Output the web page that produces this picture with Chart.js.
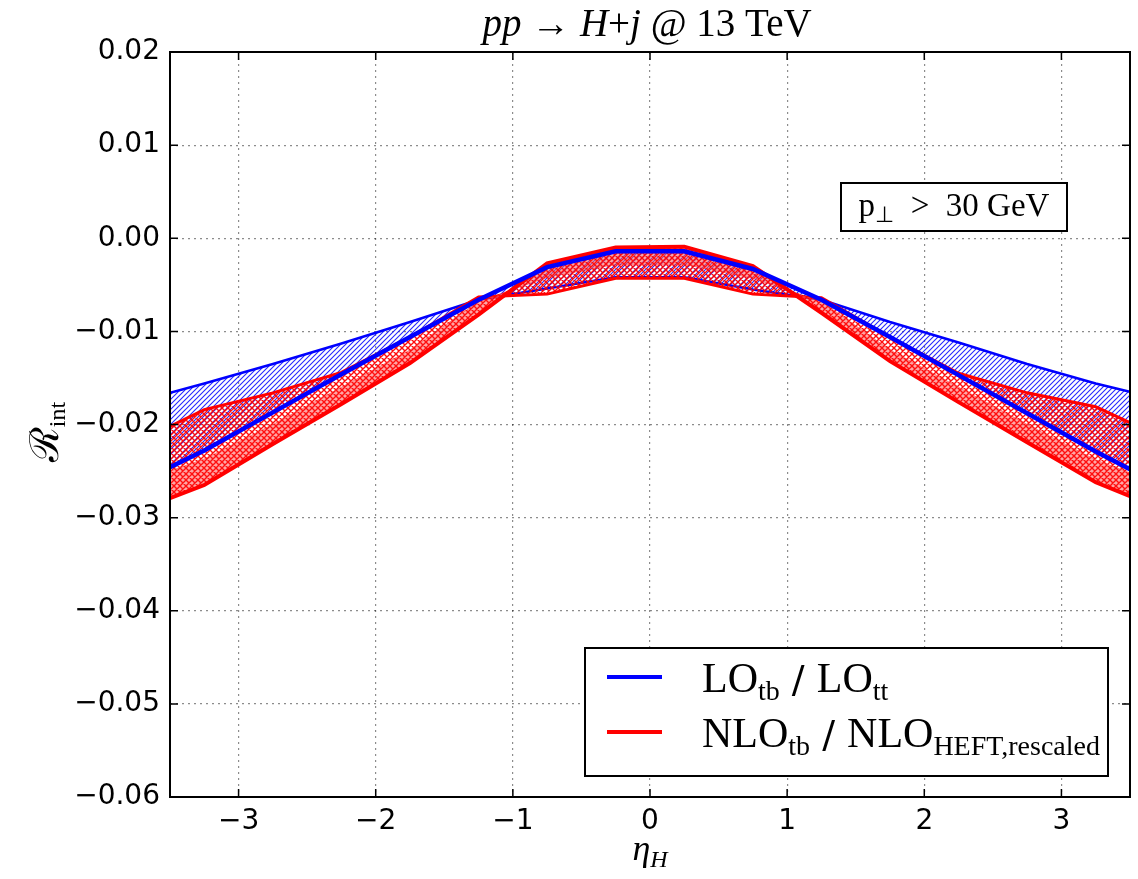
<!DOCTYPE html>
<html>
<head>
<meta charset="utf-8">
<script src="https://cdn.jsdelivr.net/npm/chart.js@4.4.0/dist/chart.umd.min.js"></script>
<style>
  html, body { margin: 0; padding: 0; background: #fff; }
  #wrap { width: 1138px; height: 879px; }
</style>
</head>
<body>
<div id="wrap"><canvas id="chart" width="1138" height="879"></canvas></div>
<script>
// eta_H bins (edges of plot at +-3.5)
const eta = [-3.5, -3.25, -2.75, -2.25, -1.75, -1.25, -0.75, -0.25, 0.25, 0.75, 1.25, 1.75, 2.25, 2.75, 3.25, 3.5];

// LO_tb / LO_tt : central line and other edge of the band
const loCentral = [-0.0246, -0.0228, -0.0187, -0.0146, -0.0106, -0.0066, -0.0031, -0.0014,
                   -0.0014, -0.0033, -0.0066, -0.0106, -0.0147, -0.0188, -0.0229, -0.0248];
const loBand    = [-0.0166, -0.0156, -0.0135, -0.0113, -0.0090, -0.0066, -0.0054, -0.0042,
                   -0.0042, -0.0055, -0.0066, -0.0090, -0.0112, -0.0135, -0.0156, -0.0165];

// NLO_tb / NLO_HEFT,rescaled : central line, middle edge, hatched edge
const nloCentral = [-0.0279, -0.0265, -0.0221, -0.0178, -0.0134, -0.0082, -0.0027, -0.0010,
                    -0.0009, -0.0030, -0.0080, -0.0132, -0.0176, -0.0219, -0.0262, -0.0277];
const nloMid     = [-0.0250, -0.0237, -0.0200, -0.0160, -0.0120, -0.0068, -0.0042, -0.0028,
                    -0.0028, -0.0043, -0.0068, -0.0120, -0.0160, -0.0200, -0.0238, -0.0252];
const nloHatch   = [-0.0202, -0.0184, -0.0166, -0.0144, -0.0106, -0.0063, -0.0060, -0.0043,
                    -0.0043, -0.0060, -0.0064, -0.0106, -0.0145, -0.0166, -0.0181, -0.0198];

const xTicks = [-3, -2, -1, 0, 1, 2, 3];
const xTickLabels = ['\u22123', '\u22122', '\u22121', '0', '1', '2', '3'];
const yTicks = [-0.06, -0.05, -0.04, -0.03, -0.02, -0.01, 0.0, 0.01, 0.02];
const yTickLabels = ['\u22120.06', '\u22120.05', '\u22120.04', '\u22120.03', '\u22120.02', '\u22120.01', '0.00', '0.01', '0.02'];

function pts(ys) {
    return eta.map((x, i) => ({ x: x, y: ys[i] }));
}

// hatch patterns like matplotlib '///' and 'xxx'
function hatch(color, size, cross, bg, lw) {
    const c = document.createElement('canvas');
    c.width = size; c.height = size;
    const g = c.getContext('2d');
    if (bg) { g.fillStyle = bg; g.fillRect(0, 0, size, size); }
    g.strokeStyle = color;
    g.lineWidth = lw || 1.1;
    g.beginPath();
    g.moveTo(0, size); g.lineTo(size, 0);
    g.moveTo(-1, 1); g.lineTo(1, -1);
    g.moveTo(size - 1, size + 1); g.lineTo(size + 1, size - 1);
    if (cross) {
        g.moveTo(0, 0); g.lineTo(size, size);
        g.moveTo(-1, size - 1); g.lineTo(1, size + 1);
        g.moveTo(size - 1, -1); g.lineTo(size + 1, 1);
    }
    g.stroke();
    return g.createPattern(c, 'repeat');
}

const blueHatch = hatch('rgba(0,0,255,0.85)', 5, false);
const redHatch = hatch('rgba(255,0,0,0.95)', 6, true, null, 1.4);
const redSolid = hatch('rgba(255,0,0,0.9)', 6, true, 'rgba(255,90,90,0.55)', 1.4);

const SERIF = '"Liberation Serif", "DejaVu Serif", serif';

function drawRich(ctx, x, y, parts, align) {
    let w = 0;
    parts.forEach(p => {
        ctx.font = (p.it ? 'italic ' : '') + p.size + 'px ' + (p.fam || SERIF);
        p.w = ctx.measureText(p.t).width;
        w += p.w;
    });
    let cx = align === 'center' ? x - w / 2 : (align === 'right' ? x - w : x);
    ctx.textAlign = 'left';
    ctx.textBaseline = 'alphabetic';
    parts.forEach(p => {
        ctx.font = (p.it ? 'italic ' : '') + p.size + 'px ' + (p.fam || SERIF);
        ctx.fillText(p.t, cx, y + (p.dy || 0));
        cx += p.w;
    });
}

const decor = {
    id: 'decor',
    afterDraw(chart) {
        const ctx = chart.ctx;
        const a = chart.chartArea;
        const xs = chart.scales.x, ys = chart.scales.y;
        ctx.save();
        ctx.fillStyle = '#000';
        ctx.strokeStyle = '#000';

        // inward ticks on all sides
        ctx.lineWidth = 1.5;
        ctx.beginPath();
        xTicks.forEach(v => {
            const px = xs.getPixelForValue(v);
            ctx.moveTo(px, a.bottom); ctx.lineTo(px, a.bottom - 8);
            ctx.moveTo(px, a.top); ctx.lineTo(px, a.top + 8);
        });
        yTicks.forEach(v => {
            const py = ys.getPixelForValue(v);
            ctx.moveTo(a.left, py); ctx.lineTo(a.left + 8, py);
            ctx.moveTo(a.right, py); ctx.lineTo(a.right - 8, py);
        });
        ctx.stroke();

        // frame
        ctx.lineWidth = 2;
        ctx.strokeRect(a.left, a.top, a.right - a.left, a.bottom - a.top);

        // title
        drawRich(ctx, 647, 36, [
            { t: 'pp', it: true, size: 39 },
            { t: ' \u2192 ', size: 39 },
            { t: 'H', it: true, size: 39 },
            { t: '+', size: 39 },
            { t: 'j', it: true, size: 39 },
            { t: ' @ 13 TeV', size: 39 }
        ], 'center');

        // x label
        drawRich(ctx, 650, 860, [
            { t: '\u03b7', it: true, size: 36 },
            { t: 'H', it: true, size: 24, dy: 7 }
        ], 'center');

        // y label
        ctx.save();
        ctx.translate(58, 432);
        ctx.rotate(-Math.PI / 2);
        drawRich(ctx, 0, 0, [
            { t: '\u211b', size: 40, fam: '"DejaVu Serif", serif' },
            { t: 'int', size: 24, dy: 7 }
        ], 'center');
        ctx.restore();

        // cut annotation
        ctx.fillStyle = '#fff';
        ctx.fillRect(841, 183, 226, 48);
        ctx.lineWidth = 2;
        ctx.strokeRect(841, 183, 226, 48);
        ctx.fillStyle = '#000';
        drawRich(ctx, 954, 216, [
            { t: 'p', size: 33 },
            { t: '\u22a5', size: 22, dy: 6, fam: '"DejaVu Sans", sans-serif' },
            { t: '  >  30 GeV', size: 33 }
        ], 'center');

        // legend
        ctx.fillStyle = '#fff';
        ctx.fillRect(585, 648, 523, 128);
        ctx.strokeRect(585, 648, 523, 128);
        ctx.lineWidth = 4;
        ctx.strokeStyle = '#0000ff';
        ctx.beginPath(); ctx.moveTo(607, 677); ctx.lineTo(662, 677); ctx.stroke();
        ctx.strokeStyle = '#ff0000';
        ctx.beginPath(); ctx.moveTo(607, 732); ctx.lineTo(662, 732); ctx.stroke();
        ctx.fillStyle = '#000';
        drawRich(ctx, 702, 692, [
            { t: 'LO', size: 42 },
            { t: 'tb', size: 28, dy: 8 },
            { t: ' / ', size: 38, fam: '"DejaVu Sans", sans-serif' },
            { t: 'LO', size: 42 },
            { t: 'tt', size: 28, dy: 8 }
        ], 'left');
        drawRich(ctx, 702, 747, [
            { t: 'NLO', size: 42 },
            { t: 'tb', size: 28, dy: 8 },
            { t: ' / ', size: 38, fam: '"DejaVu Sans", sans-serif' },
            { t: 'NLO', size: 42 },
            { t: 'HEFT,rescaled', size: 28, dy: 8 }
        ], 'left');
        ctx.restore();
    }
};

function build() {
    const ctx = document.getElementById('chart').getContext('2d');
    new Chart(ctx, {
        type: 'line',
        data: {
            datasets: [
                { label: 'LO central', data: pts(loCentral), borderColor: '#0000ff', borderWidth: 4.5, fill: false },
                { label: 'NLO central', data: pts(nloCentral), borderColor: '#ff0000', borderWidth: 4,
                  fill: { target: 2 }, backgroundColor: redSolid },
                { label: 'NLO mid', data: pts(nloMid), borderColor: 'rgba(255,0,0,0.5)', borderWidth: 1,
                  fill: { target: 3 }, backgroundColor: redHatch },
                { label: 'NLO band', data: pts(nloHatch), borderColor: '#ff0000', borderWidth: 3, fill: false },
                { label: 'LO band', data: pts(loBand), borderColor: '#0000ff', borderWidth: 2.5,
                  fill: { target: 0 }, backgroundColor: blueHatch }
            ]
        },
        options: {
            responsive: false,
            animation: false,
            layout: { padding: { left: 0, top: 52, right: 8, bottom: 0 } },
            elements: { point: { radius: 0 }, line: { tension: 0 } },
            plugins: {
                legend: { display: false },
                tooltip: { enabled: false },
                title: { display: false }
            },
            scales: {
                x: {
                    type: 'linear',
                    min: -3.5,
                    max: 3.5,
                    afterBuildTicks: s => { s.ticks = xTicks.map(v => ({ value: v })); },
                    afterFit: s => { s.height = 82; },
                    ticks: {
                        padding: 8,
                        color: '#000',
                        font: { family: '"DejaVu Sans", sans-serif', size: 28 },
                        maxRotation: 0,
                        callback: (v, i) => xTickLabels[i]
                    },
                    grid: { color: 'rgba(0,0,0,0.45)', lineWidth: 1.2, drawTicks: false },
                    border: { display: false, dash: [2, 4] }
                },
                y: {
                    type: 'linear',
                    min: -0.06,
                    max: 0.02,
                    afterBuildTicks: s => { s.ticks = yTicks.map(v => ({ value: v })); },
                    afterFit: s => { s.width = 170; },
                    ticks: {
                        padding: 10,
                        color: '#000',
                        font: { family: '"DejaVu Sans", sans-serif', size: 28 },
                        callback: (v, i) => yTickLabels[i]
                    },
                    grid: { color: 'rgba(0,0,0,0.45)', lineWidth: 1.2, drawTicks: false },
                    border: { display: false, dash: [2, 4] }
                }
            }
        },
        plugins: [decor]
    });
}

document.addEventListener('DOMContentLoaded', build);
</script>
</body>
</html>
